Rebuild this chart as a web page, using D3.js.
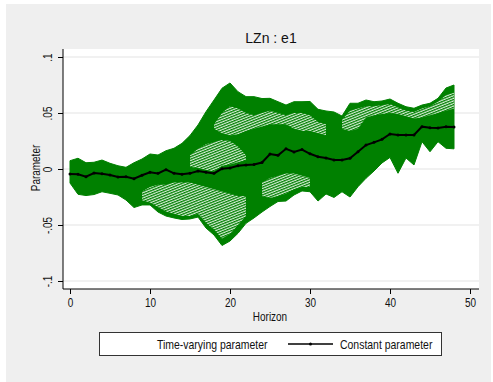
<!DOCTYPE html>
<html><head><meta charset="utf-8">
<script src="https://cdn.jsdelivr.net/npm/d3@7"></script>
<style>
html,body{margin:0;padding:0;background:#fff;}
svg{display:block;}
text{font-family:"Liberation Sans",Arial,sans-serif;fill:#111;}
</style></head>
<body>
<script>
// ---------------- data ----------------
const horizon = [0,1,2,3,4,5,6,7,8,9,10,11,12,13,14,15,16,17,18,19,20,21,22,23,24,25,26,27,28,29,30,31,32,33,34,35,36,37,38,39,40,41,42,43,44,45,46,47,48];
const constantParam = [-0.0045,-0.0047,-0.0069,-0.0036,-0.0042,-0.0054,-0.0071,-0.0069,-0.0087,-0.0056,-0.0030,-0.0039,-0.0006,-0.0039,-0.0047,-0.0039,-0.0018,-0.0030,-0.0039,0.0003,0.0009,0.0029,0.0036,0.0040,0.0058,0.0134,0.0122,0.0180,0.0152,0.0174,0.0136,0.0110,0.0098,0.0080,0.0080,0.0096,0.0154,0.0214,0.0238,0.0265,0.0313,0.0304,0.0304,0.0304,0.0378,0.0369,0.0366,0.0378,0.0375];
// envelope of the time-varying parameter paths
const tvpUpper = [0.0074,0.0096,0.0056,0.0060,0.0080,0.0051,0.0029,0.0015,0.0056,0.0089,0.0134,0.0125,0.0163,0.0185,0.0229,0.0299,0.0393,0.0512,0.0616,0.0721,0.0768,0.0690,0.0646,0.0646,0.0629,0.0631,0.0601,0.0571,0.0601,0.0601,0.0603,0.0533,0.0518,0.0509,0.0473,0.0587,0.0587,0.0616,0.0601,0.0607,0.0625,0.0587,0.0556,0.0542,0.0571,0.0587,0.0631,0.0723,0.0750];
const tvpLower = [-0.0125,-0.0226,-0.0237,-0.0228,-0.0203,-0.0217,-0.0232,-0.0277,-0.0344,-0.0321,-0.0321,-0.0384,-0.0420,-0.0437,-0.0451,-0.0446,-0.0429,-0.0527,-0.0589,-0.0683,-0.0643,-0.0574,-0.0485,-0.0437,-0.0384,-0.0335,-0.0290,-0.0286,-0.0232,-0.0196,-0.0203,-0.0286,-0.0223,-0.0254,-0.0203,-0.0250,-0.0158,-0.0083,-0.0018,0.0054,0.0103,-0.0038,0.0098,0.0036,0.0244,0.0154,0.0244,0.0185,0.0180];
// sparser (lighter) parts of the bundle of paths
const gapA_h  = [15,16,17,18,19,20,21,22];
const gapA_hi = [0.012,0.018,0.022,0.024,0.026,0.025,0.020,0.012];
const gapA_lo = [0.002,0.001,-0.001,-0.002,0.003,0.004,0.006,0.008];
const gapB_h  = [18,19,20,21,22,23,24,25,26,27,28,29,30,31,32];
const gapB_hi = [0.040,0.050,0.056,0.054,0.050,0.048,0.050,0.052,0.050,0.048,0.050,0.050,0.048,0.042,0.040];
const gapB_lo = [0.036,0.032,0.030,0.031,0.034,0.036,0.038,0.040,0.040,0.040,0.036,0.034,0.034,0.032,0.030];
const gapC_h  = [34,35,36,37,38,39,40,41,42,43,44,45,46,47,48];
const gapC_hi = [0.044,0.052,0.054,0.056,0.056,0.057,0.058,0.055,0.052,0.051,0.054,0.056,0.060,0.066,0.068];
const gapC_lo = [0.036,0.034,0.036,0.046,0.048,0.049,0.050,0.049,0.047,0.045,0.046,0.048,0.050,0.052,0.054];
const gapD_h  = [9,10,11,12,13,14,15,16,17,18,19,20,21,22];
const gapD_hi = [-0.020,-0.016,-0.014,-0.014,-0.012,-0.012,-0.012,-0.014,-0.016,-0.018,-0.020,-0.022,-0.024,-0.024];
const gapD_lo = [-0.028,-0.030,-0.034,-0.038,-0.040,-0.042,-0.042,-0.040,-0.048,-0.054,-0.062,-0.058,-0.050,-0.042];
const gapE_h  = [24,25,26,27,28,29,30];
const gapE_hi = [-0.012,-0.008,-0.006,-0.004,-0.004,-0.006,-0.008];
const gapE_lo = [-0.024,-0.026,-0.024,-0.022,-0.018,-0.016,-0.016];

const yTicks = [-0.1,-0.05,0,0.05,0.1];
const yTickLabels = ["-.1","-.05","0",".05",".1"];
const xTicks = [0,10,20,30,40,50];
const titleText = "LZn : e1";
const xTitle = "Horizon";
const yTitle = "Parameter";
const legendLabels = ["Time-varying parameter","Constant parameter"];

// ---------------- layout ----------------
const W = 493, H = 382;
const plot = {l:63, r:479, t:49, b:289};
const GREEN = "#008000";
const NARROW = 0.83;

const svg = d3.select("body").append("svg").attr("width",W).attr("height",H);

svg.append("rect").attr("x",6).attr("y",4).attr("width",485).attr("height",378).attr("fill","#efefef");
svg.append("rect").attr("x",plot.l).attr("y",plot.t).attr("width",plot.r-plot.l).attr("height",plot.b-plot.t).attr("fill","#fff");

const x = d3.scaleLinear().domain([0,50]).range([70,470]);
const y = d3.scaleLinear().domain([-0.1,0.1]).range([281,57]);

// gridlines
svg.append("g").selectAll("line").data(yTicks).join("line")
  .attr("x1",plot.l).attr("x2",plot.r).attr("y1",d=>y(d)).attr("y2",d=>y(d))
  .attr("stroke","#ececec").attr("stroke-width",1.5);

// pattern for sparse mesh areas
const defs = svg.append("defs");
const pat = defs.append("pattern").attr("id","mesh").attr("patternUnits","userSpaceOnUse")
  .attr("width",2.4).attr("height",2.4).attr("patternTransform","rotate(-22)");
pat.append("rect").attr("width",2.4).attr("height",2.4).attr("fill","#fff");
pat.append("rect").attr("width",2.4).attr("height",1.25).attr("fill",GREEN);

const band = horizon.map((h,i)=>({h, hi:tvpUpper[i], lo:tvpLower[i]}));
const area = d3.area().x(d=>x(d.h)).y0(d=>y(d.lo)).y1(d=>y(d.hi));
svg.append("path").datum(band).attr("d",area).attr("fill",GREEN).attr("stroke",GREEN).attr("stroke-width",1);

const gaps = [[gapA_h,gapA_hi,gapA_lo],[gapB_h,gapB_hi,gapB_lo],[gapC_h,gapC_hi,gapC_lo],[gapD_h,gapD_hi,gapD_lo],[gapE_h,gapE_hi,gapE_lo]];
const gapArea = d3.area().x(d=>x(d.h)).y0(d=>y(d.lo)).y1(d=>y(d.hi));
gaps.forEach(g=>{
  const data = g[0].map((h,i)=>({h, hi:g[1][i], lo:g[2][i]}));
  svg.append("path").datum(data).attr("d",gapArea).attr("fill","url(#mesh)").attr("opacity",0.85);
});

// constant parameter line
const cdata = horizon.map((h,i)=>({h, v:constantParam[i]}));
svg.append("path").datum(cdata).attr("d",d3.line().x(d=>x(d.h)).y(d=>y(d.v)))
  .attr("fill","none").attr("stroke","#000").attr("stroke-width",2);
svg.append("g").selectAll("circle").data(cdata).join("circle")
  .attr("cx",d=>x(d.h)).attr("cy",d=>y(d.v)).attr("r",1.5).attr("fill","#000");

// axes
const yAxis = svg.append("g").attr("transform",`translate(${plot.l},0)`)
  .call(d3.axisLeft(y).tickValues(yTicks).tickSize(5).tickFormat((d,i)=>yTickLabels[i]));
yAxis.select(".domain").attr("d",`M0,${plot.t}V${plot.b}`).attr("stroke","#000");
yAxis.selectAll(".tick text").attr("font-size",12).attr("fill","#111")
  .attr("x",null).attr("dy",null)
  .attr("text-anchor","middle")
  .attr("transform","translate(-11,0) rotate(-90)");

const xAxis = svg.append("g").attr("transform",`translate(0,${plot.b})`)
  .call(d3.axisBottom(x).tickValues(xTicks).tickSize(5).tickFormat(d3.format("d")));
xAxis.select(".domain").attr("d",`M${plot.l},0H${plot.r}`).attr("stroke","#000");
xAxis.selectAll(".tick text").attr("font-size",12).attr("fill","#111").attr("y",9).attr("dy","0.71em");
svg.selectAll(".tick line").attr("stroke","#000");
svg.selectAll(".tick text").style("font-family",null);

// titles
svg.append("text").attr("x",(plot.l+plot.r)/2).attr("y",43).attr("text-anchor","middle").attr("font-size",14).text(titleText);
svg.append("text").attr("class","narrow").attr("x",270).attr("y",321).attr("text-anchor","middle").attr("font-size",12).text(xTitle);
svg.append("text").attr("class","narrow").attr("transform","translate(40,168) rotate(-90)").attr("text-anchor","middle").attr("font-size",12).text(yTitle);

// legend
const lg = svg.append("g");
lg.append("rect").attr("x",99.5).attr("y",332.5).attr("width",342).attr("height",23).attr("fill","#fff").attr("stroke","#333").attr("stroke-width",1);
lg.append("text").attr("class","narrow").attr("x",157).attr("y",348.5).attr("font-size",12.6).text(legendLabels[0]);
lg.append("line").attr("x1",288).attr("x2",333).attr("y1",344).attr("y2",344).attr("stroke","#000").attr("stroke-width",1.5);
lg.append("circle").attr("cx",310.5).attr("cy",344).attr("r",1.5).attr("fill","#000");
lg.append("text").attr("class","narrow").attr("x",340).attr("y",348.5).attr("font-size",12.6).text(legendLabels[1]);

// condense the Stata-like narrow texts
svg.selectAll("text.narrow, .tick text").each(function(){
  const len = this.getComputedTextLength();
  d3.select(this).attr("textLength",len*NARROW).attr("lengthAdjust","spacingAndGlyphs");
});
</script>
</body></html>
